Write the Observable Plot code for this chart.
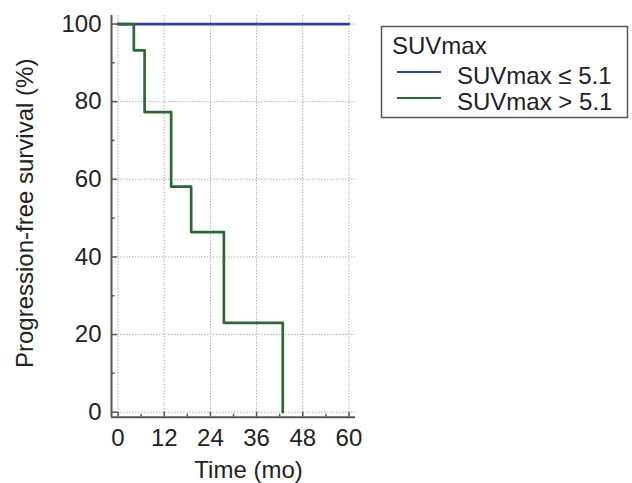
<!DOCTYPE html>
<html>
<head>
<meta charset="utf-8">
<script src="https://cdn.jsdelivr.net/npm/d3@7"></script>
<script src="https://cdn.jsdelivr.net/npm/@observablehq/plot@0.6"></script>
<style>
  html, body { margin: 0; padding: 0; background: #fff; }
  #wrap { position: relative; width: 632px; height: 483px; font-family: "Liberation Sans", Arial, sans-serif; }
  #legend { position: absolute; left: 380px; top: 20px; }
</style>
</head>
<body>
<div id="wrap"></div>
<script>
// ---- data ----
const seriesNames = ["SUVmax \u2264 5.1", "SUVmax > 5.1"];
const seriesColors = ["#33409c", "#2b6a37"];
const lowTime = [0, 60];
const lowSurv = [100, 100];
const highTime = [0, 4.1, 6.9, 13.8, 19.0, 27.5, 42.8];
const highSurv = [100, 93.2, 77.3, 58.1, 46.4, 23.0, 0];
const xTicks = [0, 12, 24, 36, 48, 60];
const xMinor = [6, 18, 30, 42, 54];
const yTicks = [0, 20, 40, 60, 80, 100];
const yMinor = [10, 30, 50, 70, 90];
const legendTitle = "SUVmax";
const xLabel = "Time (mo)";
const yLabel = "Progression-free survival (%)";

const rows = [
  ...lowTime.map((t, i) => ({series: seriesNames[0], t, s: lowSurv[i]})),
  ...highTime.map((t, i) => ({series: seriesNames[1], t, s: highSurv[i]}))
];

const W = 632, H = 483;
const mL = 111, mR = 277, mT = 15, mB = 66.3;
const fw = W - mL - mR, fh = H - mT - mB;
const xDom = [-1.7, 61.7], yDom = [-1.3, 102.2];
const axisCol = "#555";
const FS = 24;

const chart = Plot.plot({
  width: W, height: H,
  marginLeft: mL, marginRight: mR, marginTop: mT, marginBottom: mB,
  style: {fontFamily: '"Liberation Sans", Arial, sans-serif', fontSize: FS + "px", color: "#222", background: "#fff"},
  x: {domain: xDom},
  y: {domain: yDom},
  color: {domain: seriesNames, range: seriesColors},
  marks: [
    Plot.gridX(xTicks, {stroke: "#b0b0b0", strokeOpacity: 1, strokeDasharray: "1.5,1.5"}),
    Plot.gridY(yTicks, {stroke: "#b0b0b0", strokeOpacity: 1, strokeDasharray: "1.5,1.5"}),
    Plot.ruleX([xDom[0]], {stroke: axisCol, strokeWidth: 2}),
    Plot.ruleY([yDom[0]], {stroke: axisCol, strokeWidth: 2}),
    Plot.tickY(yTicks, {y: d => d, insetRight: fw - 6, stroke: axisCol, strokeWidth: 1.5}),
    Plot.tickY(yMinor, {y: d => d, insetRight: fw - 3.5, stroke: axisCol, strokeWidth: 1.5}),
    Plot.tickX(xTicks, {x: d => d, insetTop: fh - 5, stroke: axisCol, strokeWidth: 1.5}),
    Plot.tickX(xMinor, {x: d => d, insetTop: fh - 3, stroke: axisCol, strokeWidth: 1.5}),
    Plot.axisX(xTicks, {tickSize: 0, tickPadding: 12, label: null, fontSize: FS}),
    Plot.axisY(yTicks, {tickSize: 0, tickPadding: 10, label: null, fontSize: FS}),
    Plot.line(rows, {x: "t", y: "s", z: "series", stroke: "series", strokeWidth: 2.7, curve: "step-after"}),
    Plot.text([yLabel], {text: d => d, frameAnchor: "left", textAnchor: "middle", lineAnchor: "middle", rotate: -90, dx: -86, dy: -3, fontSize: FS, fill: "#222"}),
    Plot.text([xLabel], {text: d => d, frameAnchor: "bottom", textAnchor: "middle", lineAnchor: "middle", dx: 15, dy: 53, fontSize: FS, fill: "#222"})
  ]
});

const wrap = document.getElementById("wrap");
wrap.appendChild(chart);

// ---- legend (drawn to the right, overlaying the empty margin) ----
const leg = d3.create("svg").attr("id", "legend").attr("width", 252).attr("height", 110)
  .style("font-family", '"Liberation Sans", Arial, sans-serif').style("font-size", FS + "px");
leg.append("rect").attr("x", 1.5).attr("y", 6.5).attr("width", 246).attr("height", 91)
  .attr("fill", "#fff").attr("stroke", axisCol).attr("stroke-width", 1.5);
leg.append("text").attr("x", 12).attr("y", 34).attr("fill", "#222").text(legendTitle);
seriesNames.forEach((name, i) => {
  const y = 52 + i * 26;
  leg.append("line").attr("x1", 17).attr("x2", 61).attr("y1", y).attr("y2", y)
    .attr("stroke", seriesColors[i]).attr("stroke-width", 2.2);
  leg.append("text").attr("x", 77).attr("y", y + 11.5).attr("fill", "#222").text(name);
});
wrap.appendChild(leg.node());
</script>
</body>
</html>
